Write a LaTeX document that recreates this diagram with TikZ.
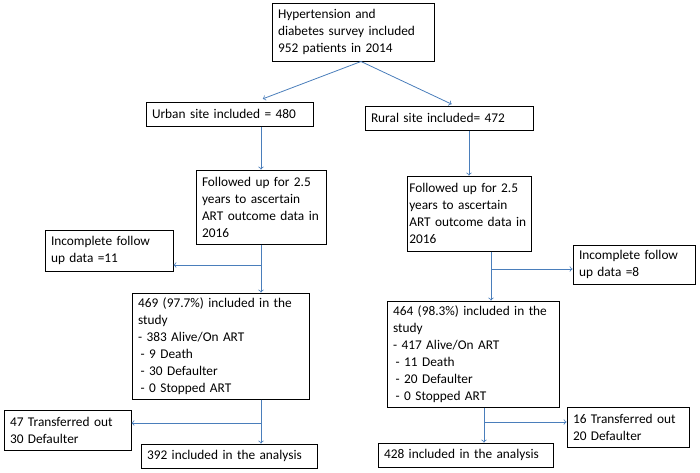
\documentclass[tikz,border=0pt]{standalone}
\usepackage{fontspec}
\setmainfont{Carlito}
\usetikzlibrary{arrows}
\definecolor{linkblue}{RGB}{74,126,187}
\tikzstyle{box}=[rectangle,
                 draw,
                 line width=0.75pt,
                 align=left,
                 inner xsep=4.5pt,
                 inner ysep=1pt,
                 font=\fontsize{10}{12.75}\selectfont]
\tikzstyle{flow}=[-to,
                  draw=linkblue,
                  line width=0.6pt]

\begin{document}
\begin{tikzpicture}[x=0.75pt,y=-0.75pt]
      \useasboundingbox (0,0) rectangle (700,472);

      \node[box, text width=112.5pt, minimum height=43.5pt] (survey) at (353,32)
           {Hypertension and\\diabetes survey included\\952 patients in 2014};

      \node[box, text width=116.25pt, minimum height=18pt] (urban) at (229.5,114) {Urban site included = 480};
      \node[box, text width=117pt, minimum height=18pt]    (rural) at (449,118)   {Rural site included= 472};

      \node[box, text width=88.5pt, minimum height=55.5pt] (followL) at (261,207)
           {Followed up for 2.5\\years to ascertain\\ART outcome data in\\2016};
      \node[box, inner xsep=1.75pt, text width=89.5pt, minimum height=56.25pt] (followR) at (469,213.5)
           {Followed up for 2.5\\years to ascertain\\ART outcome data in\\2016};

      \node[box, text width=87pt, minimum height=30.75pt]  (incL) at (109,250.5) {Incomplete follow\\up data =11};
      \node[box, text width=82.5pt, minimum height=29.25pt] (incR) at (634,264.5) {Incomplete follow\\up data =8};

      \node[box, text width=123.75pt, minimum height=79.5pt] (studyL) at (220.5,346)
           {469 (97.7\%) included in the\\study\\- 383 Alive/On ART\\\hspace*{2pt}- 9 Death\\\hspace*{2pt}- 30 Defaulter\\\hspace*{2pt}- 0 Stopped ART};
      \node[box, text width=120pt, minimum height=79.5pt]   (studyR) at (473,354)
           {464 (98.3\%) included in the\\study\\- 417 Alive/On ART\\\hspace*{2pt}- 11 Death\\\hspace*{2pt}- 20 Defaulter\\\hspace*{2pt}- 0 Stopped ART};

      \node[box, text width=86.25pt, minimum height=30pt] (transL) at (67.5,430) {47 Transferred out\\30 Defaulter};
      \node[box, text width=82.5pt, minimum height=30pt]  (transR) at (628,427)  {16 Transferred out\\20 Defaulter};

      \node[box, text width=123pt, minimum height=18pt]    (analysisL) at (229,456)   {392 included in the analysis};
      \node[box, text width=122.25pt, minimum height=18pt] (analysisR) at (465.5,455) {428 included in the analysis};

      % split points
      \coordinate (splitL) at (261,265);
      \coordinate (splitR) at (491,269);
      \coordinate (endL) at (261,423);
      \coordinate (endR) at (484,422);

      \draw[flow] ([xshift=6pt]survey.south) -- ([xshift=25pt,yshift=2pt]urban.north);
      \draw[flow] ([xshift=6pt]survey.south) -- ([xshift=2pt,yshift=1pt]rural.north);

      \draw[flow] (urban.south -| followL.north) -- (followL.north);
      \draw[flow] (followL.south) -- (followL.south |- studyL.north);
      \draw[flow] (splitL) -- (splitL -| incL.east);

      \draw[flow] (rural.south -| followR.north) -- (followR.north);
      \draw[flow] (splitR |- followR.south) -- (splitR |- studyR.north);
      \draw[flow] (splitR) -- (splitR -| incR.west);

      \draw[flow] (endL |- studyL.south) -- (endL |- analysisL.north);
      \draw[flow] (endL) -- (endL -| transL.east);

      \draw[flow] (endR |- studyR.south) -- (endR |- analysisR.north);
      \draw[flow] (endR) -- (endR -| transR.west);
\end{tikzpicture}
\end{document}
